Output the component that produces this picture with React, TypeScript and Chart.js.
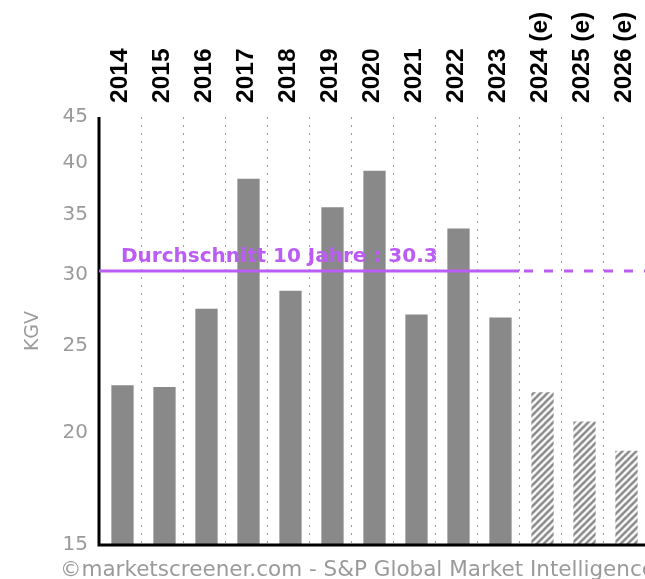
import React, { useEffect, useRef } from 'react';
import { Chart, registerables } from 'chart.js';

Chart.register(...registerables);

const categories = ['2014', '2015', '2016', '2017', '2018', '2019', '2020', '2021', '2022', '2023', '2024 (e)', '2025 (e)', '2026 (e)'];
const peValues = [22.6, 22.5, 27.5, 38.4, 28.8, 35.7, 39.2, 27.1, 33.8, 26.9, 22.2, 20.6, 19.1];
const isEstimate = [false, false, false, false, false, false, false, false, false, false, true, true, true];
const yTicks = [15, 20, 25, 30, 35, 40, 45];
const yMin = 15;
const yMax = 45;
const averageValue = 30.3;
const averageLabel = 'Durchschnitt 10 Jahre : 30.3';
const yTitle = 'KGV';
const footerText = '©marketscreener.com - S&P Global Market Intelligence';

const PURPLE = 'rgb(187, 92, 245)';
const BAR_GRAY = '#898989';
const TEXT_GRAY = '#9a9a9a';

function makeHatch(): CanvasPattern | string {
  const n = 7;
  const c = document.createElement('canvas');
  c.width = n;
  c.height = n;
  const g = c.getContext('2d');
  if (!g) return BAR_GRAY;
  g.fillStyle = '#ffffff';
  g.fillRect(0, 0, n, n);
  g.strokeStyle = BAR_GRAY;
  g.lineWidth = 2.6;
  g.beginPath();
  for (const k of [0, 1, 2]) {
    g.moveTo(k * n - n - 1, n + 1);
    g.lineTo(k * n + 1, -1);
  }
  g.stroke();
  const p = g.createPattern(c, 'repeat');
  return p || BAR_GRAY;
}

const overlayPlugin = {
  id: 'overlay',
  beforeDatasetsDraw(chart: any) {
    chart.ctx.save();
    chart.ctx.translate(2.5, 0);
  },
  afterDatasetsDraw(chart: any) {
    chart.ctx.restore();
    const { ctx, chartArea: a, scales } = chart;
    const xs = scales.x;
    const ys = scales.y;
    ctx.save();
    ctx.strokeStyle = '#000';
    ctx.lineWidth = 3;
    ctx.beginPath();
    ctx.moveTo(a.left, a.top);
    ctx.lineTo(a.left, a.bottom);
    ctx.lineTo(a.right, a.bottom);
    ctx.stroke();
    const yy = ys.getPixelForValue(averageValue);
    const lastActual = isEstimate.indexOf(true) - 1;
    const split = (xs.getPixelForValue(lastActual) + xs.getPixelForValue(lastActual + 1)) / 2;
    ctx.strokeStyle = PURPLE;
    ctx.lineWidth = 3;
    ctx.beginPath();
    ctx.moveTo(a.left, yy);
    ctx.lineTo(split, yy);
    ctx.stroke();
    ctx.setLineDash([9, 11]);
    ctx.beginPath();
    ctx.moveTo(split + 5, yy);
    ctx.lineTo(a.right, yy);
    ctx.stroke();
    ctx.setLineDash([]);
    ctx.font = 'bold 20px "DejaVu Sans"';
    ctx.fillStyle = PURPLE;
    ctx.textBaseline = 'alphabetic';
    ctx.textAlign = 'left';
    ctx.fillText(averageLabel, a.left + 22, yy - 9);
    ctx.font = '21.5px "DejaVu Sans"';
    ctx.fillStyle = TEXT_GRAY;
    ctx.fillText(footerText, 60, chart.height - 3);
    ctx.restore();
  },
};

export default function App() {
  const ref = useRef<HTMLCanvasElement | null>(null);

  useEffect(() => {
    if (!ref.current) return;
    const hatch = makeHatch();
    const chart = new Chart(ref.current, {
      type: 'bar',
      data: {
        labels: categories,
        datasets: [
          {
            data: peValues,
            backgroundColor: isEstimate.map((e) => (e ? hatch : BAR_GRAY)) as any,
            borderWidth: 0,
            barPercentage: 0.53,
            categoryPercentage: 1,
          },
        ],
      },
      options: {
        animation: false,
        responsive: false,
        devicePixelRatio: 1,
        layout: { padding: { left: 0, right: 0, top: 0, bottom: 34 } },
        plugins: {
          legend: { display: false },
          tooltip: { enabled: false },
          title: { display: false },
        },
        scales: {
          x: {
            position: 'top',
            offset: true,
            grid: {
              display: true,
              offset: true,
              drawTicks: false,
              color: '#9a9a9a',
              lineWidth: 1,
            },
            border: { display: false, dash: [2, 6] },
            ticks: {
              autoSkip: false,
              minRotation: 90,
              maxRotation: 90,
              padding: 14,
              labelOffset: 30,
              color: '#000',
              font: { family: '"Liberation Sans", Arial, sans-serif', size: 24.5, weight: 'bold' },
            },
            afterFit(scale: any) {
              scale.height = 117;
            },
          } as any,
          y: {
            type: 'logarithmic',
            min: yMin,
            max: yMax,
            grid: { display: false, drawTicks: false },
            border: { display: false },
            afterBuildTicks(scale: any) {
              scale.ticks = yTicks.map((v) => ({ value: v }));
            },
            afterFit(scale: any) {
              scale.width = 99;
            },
            ticks: {
              padding: 11,
              color: TEXT_GRAY,
              font: { family: '"DejaVu Sans", sans-serif', size: 20 },
              callback: (v: any) => String(v),
            },
            title: {
              display: true,
              text: yTitle,
              color: TEXT_GRAY,
              padding: { top: 22, bottom: 0 },
              font: { family: '"DejaVu Sans", sans-serif', size: 19 },
            },
          } as any,
        },
      },
      plugins: [overlayPlugin],
    });
    return () => chart.destroy();
  }, []);

  return (
    <div style={{ position: 'absolute', left: 0, top: 0, width: 645, height: 579, background: '#fff' }}>
      <canvas ref={ref} width={645} height={579} />
    </div>
  );
}
